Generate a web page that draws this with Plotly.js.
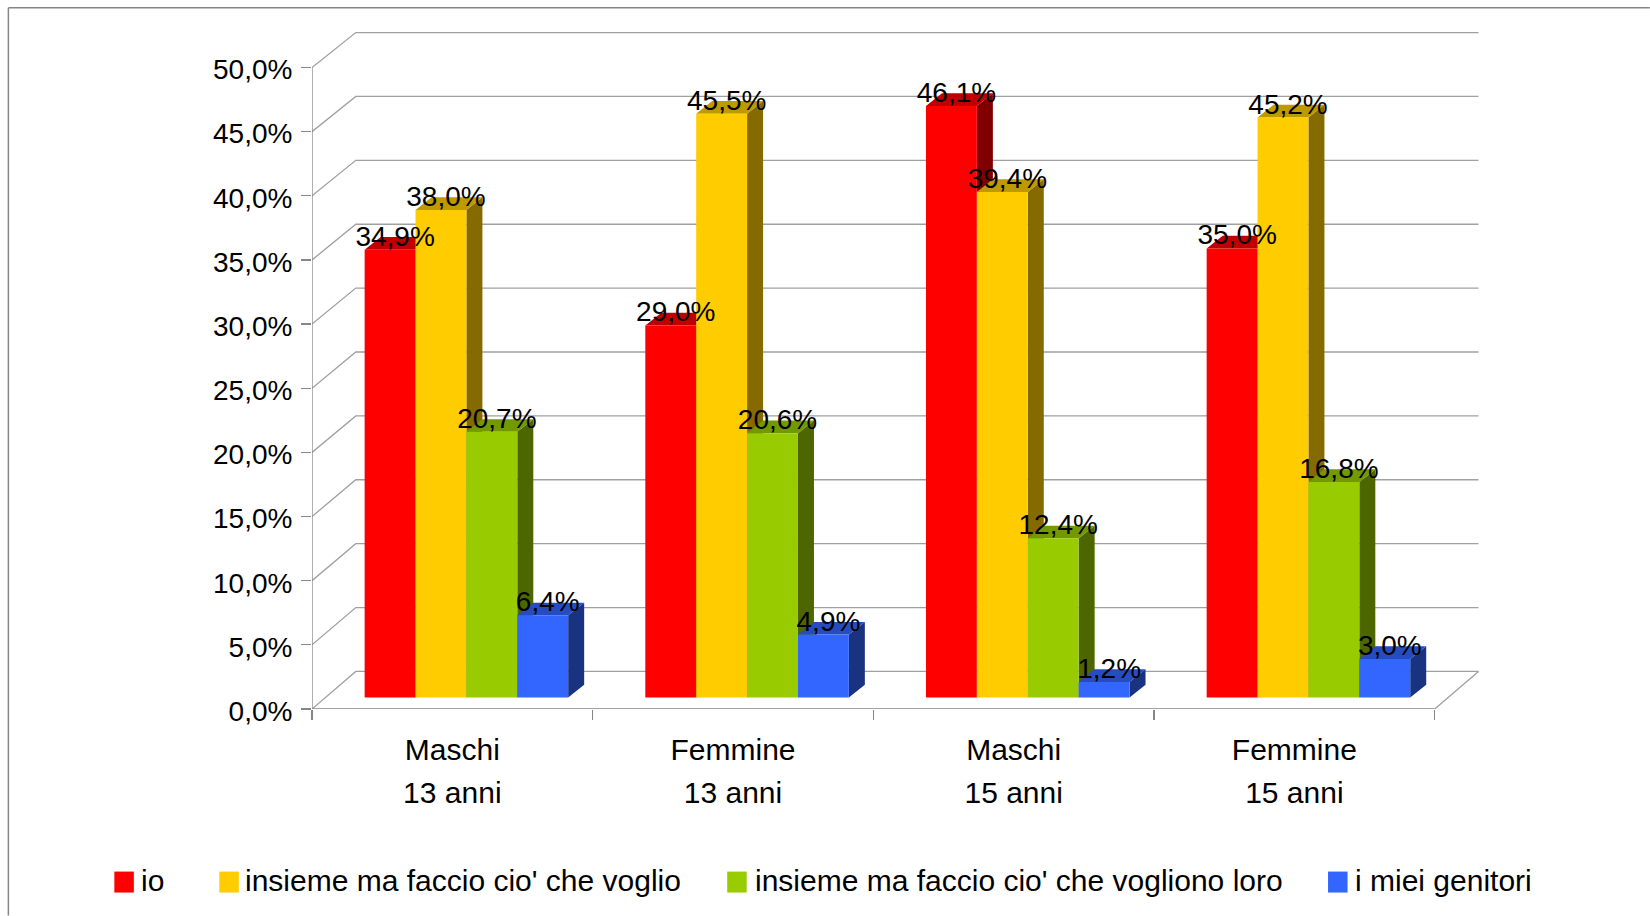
<!DOCTYPE html>
<html>
<head>
<meta charset="utf-8">
<script src="https://cdn.plot.ly/plotly-3.0.1.min.js"></script>
<style>html,body{margin:0;padding:0;background:#fff}#chart{width:1650px;height:916px}</style>
</head>
<body>
<div id="chart"></div>
<script>
// ---- data ----
const groupLabels = ["Maschi", "Femmine", "Maschi", "Femmine"];
const ageLabels = ["13 anni", "13 anni", "15 anni", "15 anni"];
const seriesNames = ["io", "insieme ma faccio cio' che voglio", "insieme ma faccio cio' che vogliono loro", "i miei genitori"];
const ioValues = [34.9, 29.0, 46.1, 35.0];
const insiemeVoglioValues = [38.0, 45.5, 39.4, 45.2];
const insiemeLoroValues = [20.7, 20.6, 12.4, 16.8];
const genitoriValues = [6.4, 4.9, 1.2, 3.0];
const yTicks = [0, 5, 10, 15, 20, 25, 30, 35, 40, 45, 50];

// ---- styling ----
const seriesValues = [ioValues, insiemeVoglioValues, insiemeLoroValues, genitoriValues];
const frontColors = ["#FF0000", "#FFCC00", "#99CC00", "#3366FF"];
const topColors = ["#C00000", "#BF9900", "#739900", "#264CBF"];
const sideColors = ["#800000", "#856A00", "#4D6600", "#1A3380"];
const legendSwatchX = [114, 219, 727, 1328];
const legendTextX = [140, 244, 753.5, 1354];

const W = 1650, H = 916;
const plotL = 311.7, plotR = 1479, zeroY = 709.3, pxPerPct = 12.84, pxPerGroup = 280.75;
const xMax = (plotR - plotL) / pxPerGroup;
const yMax = 53;
const plotT = zeroY - yMax * pxPerPct;
const font = "Liberation Sans, Arial, sans-serif";
const axisGrey = "#868686";

const barWidth = 0.1813, barStart = -0.3125, barBase = 0.9;
const depthX = 0.057, depthY = 0.99;
const wallX = 0.156, wallY = 2.93, wallScale = 0.9958;
const centers = groupLabels.map((_, i) => i + 0.5);
const fmt = v => v.toFixed(1).replace(".", ",") + "%";

const traces = [];

// back wall, side wall and floor lines
const wx = [], wy = [];
yTicks.forEach(t => {
  wx.push(0, wallX, 4 + wallX, null);
  wy.push(t, wallY + t * wallScale, wallY + t * wallScale, null);
});
wx.push(4, 4 + wallX, null);
wy.push(0, wallY, null);
traces.push({type: "scatter", mode: "lines", x: wx, y: wy, hoverinfo: "skip", showlegend: false,
  line: {color: "#a0a0a0", width: 1.3}, xaxis: "x", yaxis: "y"});
// front axis lines
traces.push({type: "scatter", mode: "lines", x: [0, 0, null, 0, 4], y: [0, yTicks[yTicks.length - 1], null, 0, 0],
  hoverinfo: "skip", showlegend: false, cliponaxis: false, line: {color: axisGrey, width: 1.3}, xaxis: "x", yaxis: "y"});

// top and side faces of each bar, drawn from the values
seriesValues.forEach((vals, s) => {
  const left = barStart + s * barWidth;
  const tx = [], ty = [], sx = [], sy = [];
  vals.forEach((v, i) => {
    const x0 = centers[i] + left, x1 = x0 + barWidth, top = v + barBase;
    tx.push(x0, x1, x1 + depthX, x0 + depthX, x0, null);
    ty.push(top, top, top + depthY, top + depthY, top, null);
    sx.push(x1, x1 + depthX, x1 + depthX, x1, x1, null);
    sy.push(barBase, barBase + depthY, top + depthY, top, barBase, null);
  });
  traces.push({type: "scatter", mode: "lines", x: sx, y: sy, fill: "toself", fillcolor: sideColors[s],
    line: {width: 0}, hoverinfo: "skip", showlegend: false, xaxis: "x", yaxis: "y"});
  traces.push({type: "scatter", mode: "lines", x: tx, y: ty, fill: "toself", fillcolor: topColors[s],
    line: {width: 0}, hoverinfo: "skip", showlegend: false, xaxis: "x", yaxis: "y"});
});

// front faces
seriesValues.forEach((vals, s) => {
  traces.push({type: "bar", name: seriesNames[s], x: centers, y: vals, base: barBase,
    width: barWidth, offset: barStart + s * barWidth,
    marker: {color: frontColors[s], line: {width: 0}}, showlegend: false, xaxis: "x2", yaxis: "y2"});
});

// value labels
seriesValues.forEach((vals, s) => {
  traces.push({type: "scatter", mode: "text",
    x: centers.map(c => c + barStart + (s + 0.5) * barWidth + 0.018),
    y: vals.map(v => v + barBase + 0.85),
    text: vals.map(fmt), textposition: "middle center", cliponaxis: false,
    textfont: {family: font, size: 28, color: "#000"}, hoverinfo: "skip", showlegend: false,
    xaxis: "x2", yaxis: "y2"});
});

const px = x => (x - plotL) / (plotR - plotL);
const py = y => (zeroY - y) / (zeroY - plotT);

const shapes = [
  {type: "line", xref: "paper", yref: "paper", x0: px(8), x1: px(8), y0: py(7.5), y1: py(916), line: {color: axisGrey, width: 1.5}},
  {type: "line", xref: "paper", yref: "paper", x0: px(8), x1: px(1650), y0: py(7.5), y1: py(7.5), line: {color: axisGrey, width: 1.5}}
];
const annotations = [];
seriesNames.forEach((n, s) => {
  shapes.push({type: "rect", xref: "paper", yref: "paper", x0: px(legendSwatchX[s]), x1: px(legendSwatchX[s] + 19.5),
    y0: py(872), y1: py(893), fillcolor: frontColors[s], line: {width: 0}});
  annotations.push({xref: "paper", yref: "paper", x: px(legendTextX[s]), y: py(881), text: n, showarrow: false,
    xanchor: "left", yanchor: "middle", font: {family: font, size: 30, color: "#000"}, borderpad: 0});
});

const layout = {
  width: W, height: H, autosize: false, paper_bgcolor: "#fff", plot_bgcolor: "rgba(0,0,0,0)",
  margin: {l: plotL, r: W - plotR, t: plotT, b: H - zeroY, pad: 0},
  showlegend: false, barmode: "overlay", hovermode: false,
  font: {family: font, color: "#000"},
  xaxis: {range: [0, xMax], tickmode: "array", tickvals: centers, ticktext: groupLabels, ticks: "",
    showgrid: false, zeroline: false, showline: false, ticklabelstandoff: 20,
    tickfont: {family: font, size: 30, color: "#000"},
    minor: {tickmode: "array", tickvals: [0, 1, 2, 3, 4], ticks: "outside", ticklen: 10, tickcolor: axisGrey, tickwidth: 1.3, showgrid: false}},
  yaxis: {range: [0, yMax], tickmode: "array", tickvals: yTicks, ticktext: yTicks.map(fmt), ticks: "outside",
    ticklen: 10, tickcolor: axisGrey, tickwidth: 1.3, showgrid: false, zeroline: false, showline: false,
    ticklabelstandoff: 3, ticklabelshift: 2,
    tickfont: {family: font, size: 28, color: "#000"}},
  xaxis2: {range: [0, xMax], overlaying: "x", anchor: "y2", side: "bottom", tickmode: "array", tickvals: centers, ticktext: ageLabels,
    ticks: "", showgrid: false, zeroline: false, showline: false, ticklabelstandoff: 63,
    tickfont: {family: font, size: 30, color: "#000"}},
  yaxis2: {range: [0, yMax], overlaying: "y", anchor: "x2", visible: false, showgrid: false, zeroline: false},
  shapes, annotations
};
Plotly.newPlot("chart", traces, layout, {displayModeBar: false, staticPlot: true});
</script>
</body>
</html>
